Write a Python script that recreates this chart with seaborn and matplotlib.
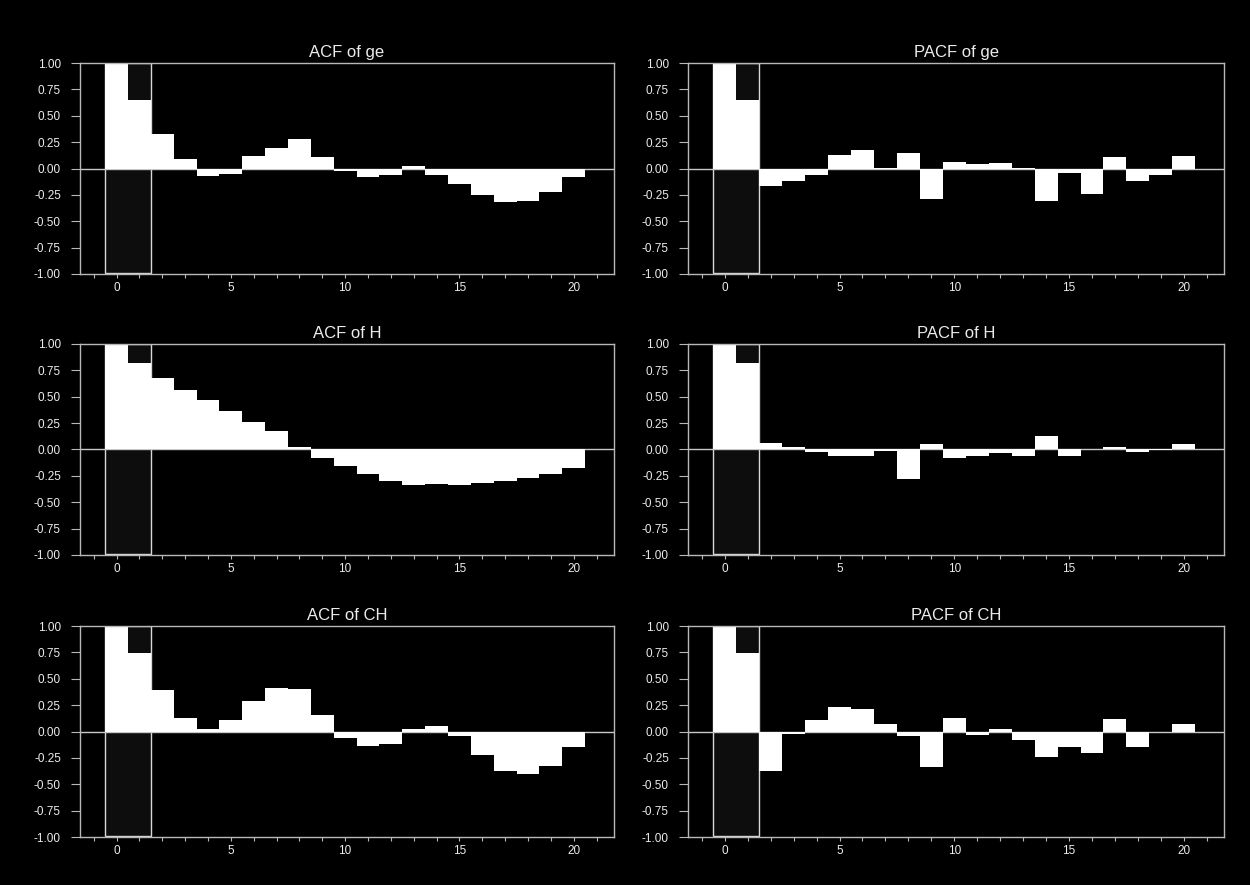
import numpy as np
import pandas as pd
import matplotlib
matplotlib.use("Agg")
import matplotlib.pyplot as plt
from matplotlib.patches import Rectangle
from matplotlib.ticker import MultipleLocator, FormatStrFormatter
import seaborn as sns

lags = list(range(21))

acf_ge = [1.0, 0.65, 0.33, 0.089, -0.07, -0.05, 0.117, 0.19, 0.28, 0.11, -0.025,
          -0.08, -0.06, 0.02, -0.06, -0.145, -0.25, -0.32, -0.31, -0.22, -0.08]
pacf_ge = [1.0, 0.65, -0.165, -0.115, -0.06, 0.13, 0.18, 0.005, 0.15, -0.285, 0.066,
           0.044, 0.054, 0.002, -0.31, -0.04, -0.24, 0.108, -0.123, -0.06, 0.117]
acf_h = [1.0, 0.82, 0.68, 0.564, 0.47, 0.364, 0.257, 0.18, 0.025, -0.08, -0.155,
         -0.235, -0.295, -0.34, -0.33, -0.34, -0.32, -0.30, -0.27, -0.235, -0.18]
pacf_h = [1.0, 0.82, 0.066, 0.025, -0.025, -0.066, -0.057, -0.016, -0.284, 0.05, -0.08,
          -0.066, -0.035, -0.066, 0.13, -0.057, 0.002, 0.022, -0.025, -0.003, 0.054]
acf_ch = [1.0, 0.742, 0.393, 0.126, 0.025, 0.11, 0.29, 0.41, 0.40, 0.157, -0.058,
          -0.14, -0.116, 0.022, 0.05, -0.047, -0.226, -0.377, -0.405, -0.324, -0.15]
pacf_ch = [1.0, 0.747, -0.373, -0.019, 0.108, 0.234, 0.212, 0.073, -0.041, -0.34, 0.133,
           -0.03, 0.025, -0.082, -0.246, -0.15, -0.205, 0.123, -0.142, -0.003, 0.073]

titles = ["ACF of ge", "PACF of ge", "ACF of H", "PACF of H", "ACF of CH", "PACF of CH"]
series = [acf_ge, pacf_ge, acf_h, pacf_h, acf_ch, pacf_ch]

sns.set_theme(style="dark")
plt.rcParams['font.family'] = ['Liberation Sans', 'DejaVu Sans']

fig = plt.figure(figsize=(12.5, 8.85), dpi=100, facecolor="black")

lefts = [0.064, 0.5504]
widths = [0.427, 0.4288]
bottoms = [0.6904, 0.3729, 0.0542]
height = 0.2384

spine_c = "#b8b8b8"
text_c = "#ececec"

for i, (title, vals) in enumerate(zip(titles, series)):
    r, c = divmod(i, 2)
    ax = fig.add_axes([lefts[c], bottoms[r], widths[c], height])
    ax.set_facecolor("black")
    df = pd.DataFrame({"lag": lags, "value": vals})
    ax.add_patch(Rectangle((-0.5, -0.99), 2.0, 1.99, facecolor="#0d0d0d",
                           edgecolor="#d8d8d8", linewidth=1.0, zorder=1))
    ax.axhline(0, color="#c8c8c8", linewidth=1.0, zorder=1.5)
    sns.barplot(data=df, x="lag", y="value", native_scale=True, width=1.0,
                color="white", saturation=1, edgecolor="white", linewidth=0,
                errorbar=None, ax=ax, zorder=2)
    ax.set_xlim(-1.6, 21.75)
    ax.set_ylim(-1.0, 1.0)
    ax.set_xticks([0, 5, 10, 15, 20])
    ax.set_xticklabels(["0", "5", "10", "15", "20"])
    ax.xaxis.set_minor_locator(MultipleLocator(1))
    ax.yaxis.set_major_locator(MultipleLocator(0.25))
    ax.yaxis.set_major_formatter(FormatStrFormatter("%.2f"))
    ax.set_xlabel("")
    ax.set_ylabel("")
    ax.grid(False)
    for s in ax.spines.values():
        s.set_visible(True)
        s.set_color(spine_c)
        s.set_linewidth(1.0)
    ax.tick_params(axis="y", which="major", direction="out", length=6.7, width=0.8,
                   color=spine_c, labelcolor=text_c, labelsize=8.5, pad=7, left=True)
    ax.tick_params(axis="x", which="major", direction="out", length=3, width=0.8,
                   color=spine_c, labelcolor=text_c, labelsize=8.5, pad=3, bottom=True)
    ax.tick_params(axis="x", which="minor", direction="out", length=3, width=0.8,
                   color=spine_c, bottom=True)
    ax.set_title(title, color=text_c, fontsize=12, pad=4)

fig.savefig("out.png", dpi=100, facecolor="black")
